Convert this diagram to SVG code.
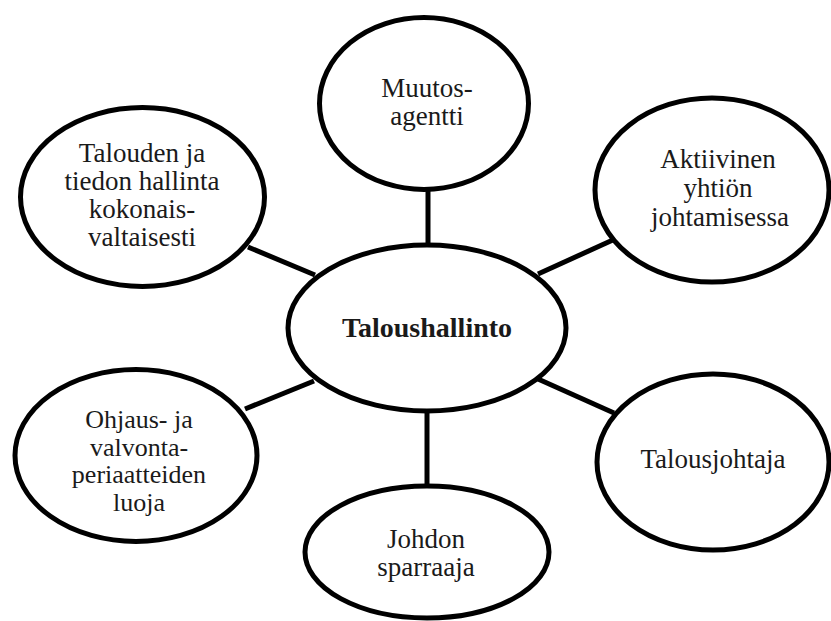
<svg xmlns="http://www.w3.org/2000/svg" width="831" height="621" viewBox="0 0 831 621">
<style>
.n{fill:#fff;stroke:#000;stroke-width:5}
.c line{stroke:#000;stroke-width:5}
text{font-family:'Liberation Serif','DejaVu Serif',serif;font-size:27px;fill:#1a1a1a;text-anchor:middle}
.s{font-size:26px}
.b{font-weight:bold;font-size:28px}
</style>
<rect width="831" height="621" fill="#fff"/>
<g class="c" id="connectors">
<line x1="428" y1="188" x2="428" y2="246"/>
<line x1="248" y1="247" x2="315" y2="275"/>
<line x1="538" y1="274" x2="615" y2="239"/>
<line x1="245" y1="409" x2="314" y2="381"/>
<line x1="538" y1="379" x2="614" y2="413"/>
<line x1="427" y1="408" x2="427" y2="489"/>
</g>
<g id="center">
<ellipse class="n" cx="427" cy="328" rx="139" ry="83"/>
<text class="b" x="427" y="337">Taloushallinto</text>
</g>
<g id="muutos">
<ellipse class="n" cx="424" cy="103.5" rx="104.5" ry="86"/>
<text x="427" y="97">Muutos-</text>
<text x="427" y="125">agentti</text>
</g>
<g id="talouden">
<ellipse class="n" cx="142.5" cy="197" rx="122" ry="89.5"/>
<text x="142" y="162">Talouden ja</text>
<text x="142" y="190">tiedon hallinta</text>
<text x="142" y="218">kokonais-</text>
<text x="142" y="246">valtaisesti</text>
</g>
<g id="aktiivinen">
<ellipse class="n" cx="712" cy="190" rx="117" ry="92"/>
<text x="718" y="168">Aktiivinen</text>
<text x="718" y="197">yhtiön</text>
<text x="720" y="226">johtamisessa</text>
</g>
<g id="ohjaus">
<ellipse class="n" cx="136" cy="455.5" rx="121" ry="86"/>
<text class="s" x="139" y="428">Ohjaus- ja</text>
<text class="s" x="139" y="455.5">valvonta-</text>
<text class="s" x="139" y="483">periaatteiden</text>
<text class="s" x="139" y="510.5">luoja</text>
</g>
<g id="talousjohtaja">
<ellipse class="n" cx="713" cy="462" rx="116" ry="88"/>
<text x="713" y="468">Talousjohtaja</text>
</g>
<g id="johdon">
<ellipse class="n" cx="427" cy="552" rx="122" ry="66"/>
<text x="426" y="548">Johdon</text>
<text x="426" y="576">sparraaja</text>
</g>
</svg>
